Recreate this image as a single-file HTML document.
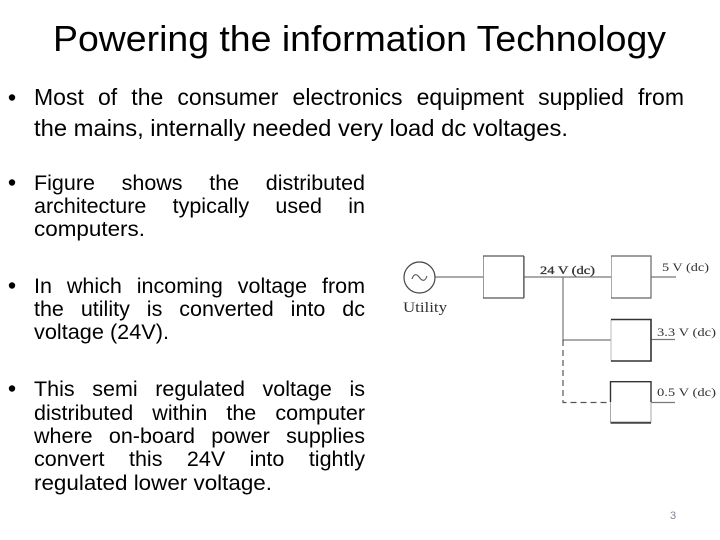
<!DOCTYPE html>
<html><head><meta charset="utf-8">
<style>
html,body{margin:0;padding:0;background:#fff}
#p{position:relative;width:720px;height:540px;overflow:hidden;background:#fff;font-family:"Liberation Sans",sans-serif;color:#000}
.j{position:absolute;left:34px;font-size:21.5px;line-height:24px;height:24px;white-space:normal;text-align:justify;text-align-last:justify}
svg{position:absolute;left:0;top:0}
</style></head><body><div id="p">
<svg width="720" height="540" viewBox="0 0 720 540">
<defs><filter id="b" x="-5%" y="-5%" width="110%" height="110%"><feGaussianBlur stdDeviation="0.35"/></filter></defs>
<g font-family="Liberation Sans, sans-serif" fill="#000">
<text x="53" y="51" font-size="36" textLength="613" lengthAdjust="spacingAndGlyphs">Powering the information Technology</text>
<text x="34" y="136" font-size="23" textLength="534" lengthAdjust="spacingAndGlyphs">the mains, internally needed very load dc voltages.</text>
<text x="34" y="236" font-size="21.5" textLength="111" lengthAdjust="spacingAndGlyphs">computers.</text>
<text x="34" y="339" font-size="21.5" textLength="135" lengthAdjust="spacingAndGlyphs">voltage (24V).</text>
<text x="34" y="490" font-size="21.5" textLength="238" lengthAdjust="spacingAndGlyphs">regulated lower voltage.</text>
</g>
<g fill="#000">
<circle cx="12" cy="97.500" r="3.200"/><circle cx="12" cy="182.500" r="3.200"/><circle cx="12" cy="285.500" r="3.200"/><circle cx="12" cy="388.500" r="3.200"/>
</g>
<g filter="url(#b)">
<g fill="none" stroke="#777" stroke-width="1.200">
<path d="M435 277H483M524 277H611M651 277H676M563 277V340H611M651 339.500H675M651 402.500H675"/>
<path d="M563 340V402.500H610" stroke-dasharray="6 4" stroke="#555"/>
</g>
<g fill="none">
<circle cx="419.500" cy="277.500" r="15.500" stroke="#444" stroke-width="1.200"/>
<path d="M412 279C414 273 417 274 419.500 277.500S425 282 427 276" stroke="#555" stroke-width="1.100"/>
<path d="M483.500 298V256H523.500V298" stroke="#999" stroke-width="1"/>
<path d="M483 256H524M524 256V298M483 298H524" stroke="#555" stroke-width="1.200"/>
<path d="M611.500 256V298" stroke="#aaa"/><path d="M611 256H651V298H611" stroke="#666" stroke-width="1.200"/>
<path d="M611 319.500V361" stroke="#bbb"/><path d="M611 319.500H651V361H611" stroke="#333" stroke-width="1.600"/>
<path d="M610.500 381.700V422.500M651 402V422.500" stroke="#aaa"/>
<path d="M610.500 402V381.700H651V402" stroke="#333" stroke-width="1.400"/><path d="M610.500 422.700H651" stroke="#444" stroke-width="2"/>
</g>
<g font-family="Liberation Serif, serif" fill="#333" font-size="12">
<text x="403" y="312" font-size="15" textLength="44" lengthAdjust="spacingAndGlyphs">Utility</text>
<text x="540" y="274" textLength="55" lengthAdjust="spacingAndGlyphs" stroke="#333" stroke-width="0.300">24 V (dc)</text>
<text x="662" y="271" textLength="47" lengthAdjust="spacingAndGlyphs">5 V (dc)</text>
<text x="657" y="336" textLength="59" lengthAdjust="spacingAndGlyphs">3.3 V (dc)</text>
<text x="657" y="396" textLength="59" lengthAdjust="spacingAndGlyphs">0.5 V (dc)</text>
</g>
</g>
<text x="670" y="519" font-family="Liberation Sans, sans-serif" font-size="11" fill="#7f8790">3</text>
</svg>
<div class="j" style="top:85px;width:650px;font-size:23px">Most of the consumer electronics equipment supplied from</div>
<div class="j" style="top:171px;width:331px">Figure shows the distributed</div>
<div class="j" style="top:194px;width:331px">architecture typically used in</div>
<div class="j" style="top:274px;width:331px">In which incoming voltage from</div>
<div class="j" style="top:297px;width:331px">the utility is converted into dc</div>
<div class="j" style="top:377px;width:331px">This semi regulated voltage is</div>
<div class="j" style="top:401px;width:331px">distributed within the computer</div>
<div class="j" style="top:424px;width:331px">where on-board power supplies</div>
<div class="j" style="top:447px;width:331px">convert this 24V into tightly</div>
</div></body></html>
